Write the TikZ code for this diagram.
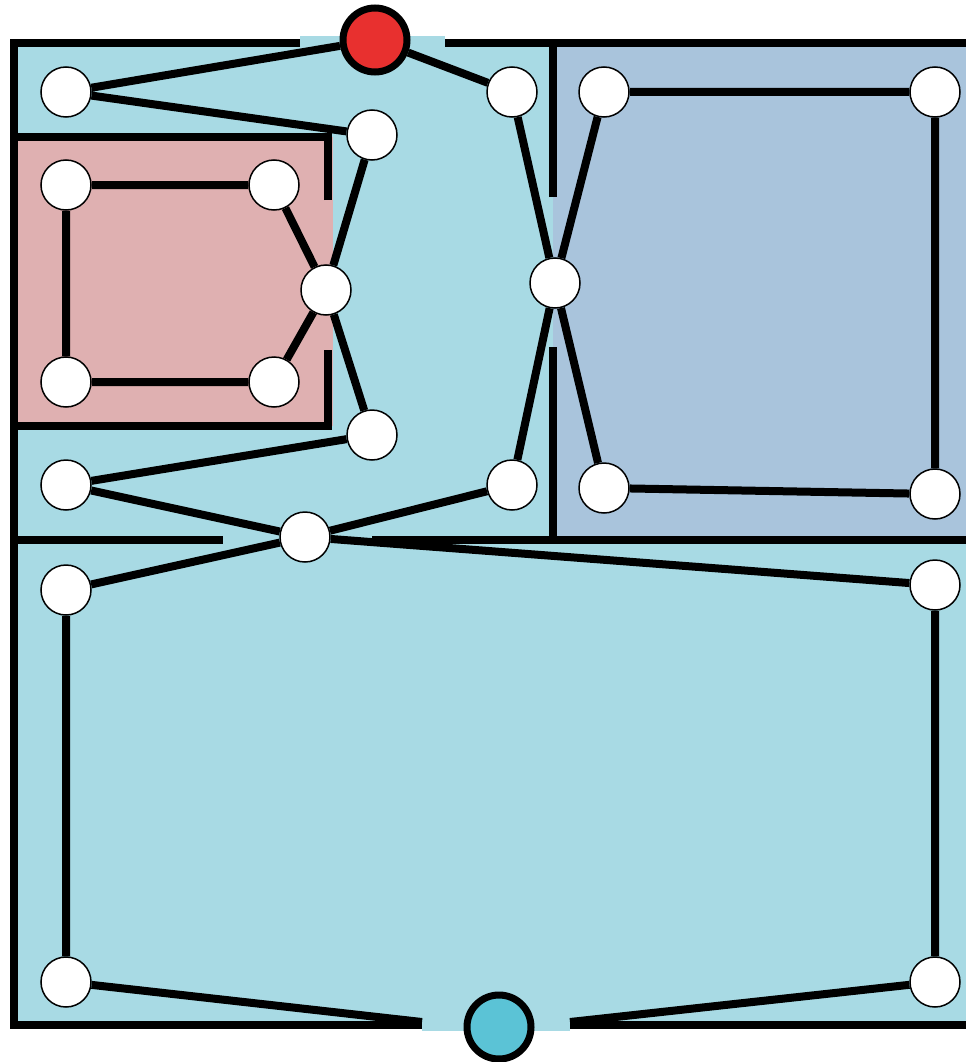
\documentclass[tikz,border=0pt]{standalone}
\usepackage{tikz}

\definecolor{hallblue}{HTML}{A8DAE4}
\definecolor{roomblue}{HTML}{A9C4DC}
\definecolor{roompink}{HTML}{DFB0B1}
\definecolor{entryred}{HTML}{E8302F}
\definecolor{exitcyan}{HTML}{5BC3D6}

\begin{document}
\begin{tikzpicture}[x=1pt, y=-1pt,
  wall/.style={line width=7.5pt, black},
  link/.style={line width=8pt, black},
  spot/.style={circle, draw=black, line width=1.5pt, fill=white, minimum size=50pt, inner sep=0pt},
  door/.style={circle, draw=black, line width=7pt, minimum size=64pt, inner sep=0pt}]

\useasboundingbox (0,0) rectangle (966,1062);

% floor areas
\fill [hallblue] (14,43) rectangle (966,1025);
\fill [hallblue] (300,36) rectangle (445,46);
\fill [hallblue] (422,1020) rectangle (570,1031);
\fill [roompink] (14,137) rectangle (333,426);
\fill [roomblue] (553,43) rectangle (966,540);

% walls
\draw [wall] (300,43) -- (14,43) -- (14,1025) -- (422,1025);
\draw [wall] (445,43) -- (966,43);
\draw [wall] (570,1025) -- (966,1025);
\draw [wall] (328,200) -- (328,137) -- (14,137);
\draw [wall] (328,350) -- (328,426) -- (14,426);
\draw [wall] (553,197) -- (553,43);
\draw [wall] (553,347) -- (553,540);
\draw [wall] (372,540) -- (966,540);
\draw [wall] (14,540) -- (223,540);

\node [door, fill=entryred] (X) at (375,40) {};
\node [door, fill=exitcyan] (Y) at (499,1027) {};

\node [spot] (A) at (66,92) {};
\node [spot] (B) at (372,135) {};
\node [spot] (C) at (512,92) {};
\node [spot] (D) at (604,92) {};
\node [spot] (E) at (935,92) {};
\node [spot] (F) at (555,283) {};
\node [spot] (G) at (66,185) {};
\node [spot] (H) at (274,185) {};
\node [spot] (I) at (66,382) {};
\node [spot] (J) at (274,382) {};
\node [spot] (K) at (326,290) {};
\node [spot] (L) at (372,435) {};
\node [spot] (M) at (66,485) {};
\node [spot] (N) at (305,537) {};
\node [spot] (O) at (512,485) {};
\node [spot] (P) at (604,488) {};
\node [spot] (Q) at (935,494) {};
\node [spot] (R) at (66,590) {};
\node [spot] (S) at (935,585) {};
\node [spot] (T) at (66,982) {};
\node [spot] (U) at (935,982) {};

\coordinate (V) at (422,1022);
\coordinate (W) at (570,1022);

\draw [link] (X) -- (A) -- (B) -- (K);
\draw [link] (X) -- (C) -- (F) -- (D) -- (E) -- (Q) -- (P) -- (F) -- (O) -- (N);
\draw [link] (K) -- (H) -- (G) -- (I) -- (J) -- (K) -- (L) -- (M) -- (N);
\draw [link] (N) -- (R) -- (T) -- (V);
\draw [link] (N) -- (S) -- (U) -- (W);

\end{tikzpicture}
\end{document}
